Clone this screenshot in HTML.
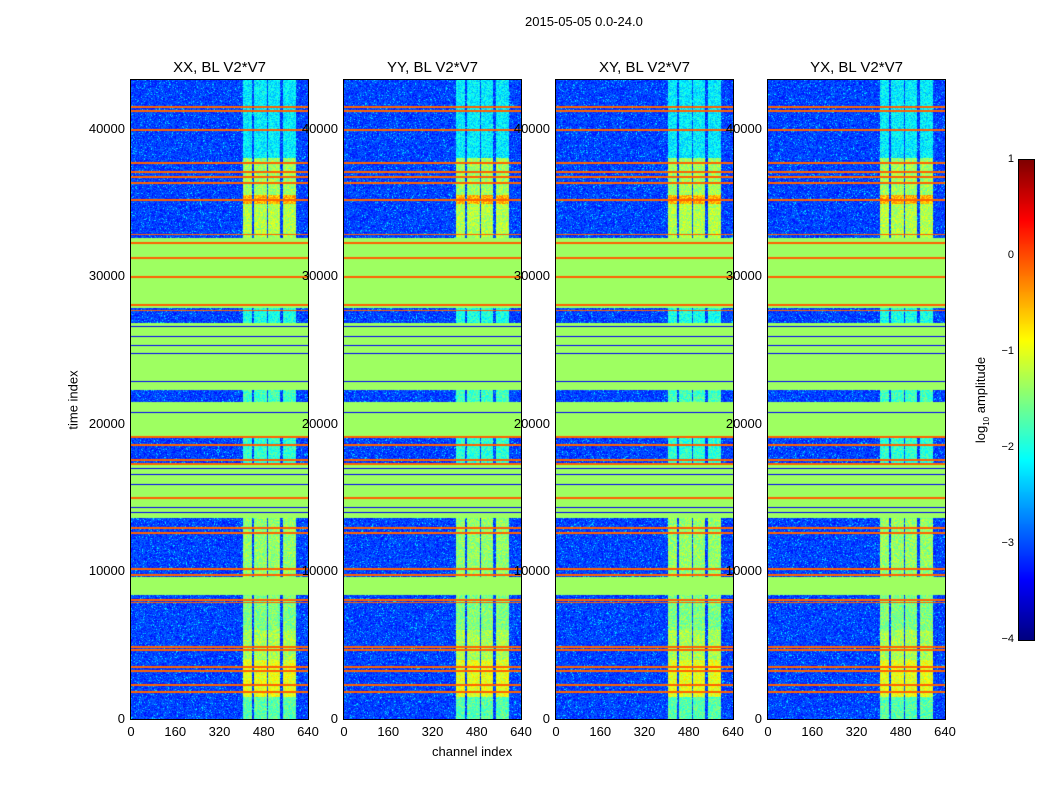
<!DOCTYPE html>
<html><head><meta charset="utf-8">
<style>
body{margin:0;background:#fff;font-family:"Liberation Sans",sans-serif;}
#root{position:relative;width:1050px;height:800px;overflow:hidden;background:#fff;}
canvas{position:absolute;}
.t{position:absolute;font-size:13px;color:#000;white-space:nowrap;}
.title{position:absolute;font-size:15px;white-space:nowrap;transform:translateX(-50%);}
.frame{position:absolute;border:1px solid #000;box-sizing:border-box;}
</style></head><body>
<div id="root">
<div class="t" style="left:525px;top:14px;">2015-05-05 0.0-24.0</div>
<div class="t" style="top:400px;transform:translate(-50%,-50%) rotate(-90deg);left:73px;">time index</div>
<div class="t" style="left:432px;top:744px;">channel index</div>
<canvas id="cb" width="15" height="480" style="left:1019px;top:160px;"></canvas>
<div class="frame" style="left:1018px;top:159px;width:17px;height:482px;"></div>
<div class="t" style="left:982px;top:400px;transform:translate(-50%,-50%) rotate(-90deg);">log<sub style="font-size:8px">10</sub> amplitude</div>
</div>
<script>
const panelTitles=["XX, BL V2*V7","YY, BL V2*V7","XY, BL V2*V7","YX, BL V2*V7"];
const panelLefts=[131,344,556,768];
const yTicks=[0,10000,20000,30000,40000];
const xTicks=[0,160,320,480,640];
const cbTicks=[1,0,-1,-2,-3,-4];
const greenBands=[[8400,9630],[13630,17350],[19050,21500],[22300,26850],[27860,32600]];
const redLines=[1850,2300,3250,3550,4700,4900,7900,8050,9750,10150,12600,12950,15000,17300,17550,18600,19100,27700,28050,29950,31250,32250,32850,35200,36350,36750,37100,37700,39950,41200,41500];
const blueLines=[14030,14370,15930,16610,16950,20750,22850,24750,25290,25900,26580];
const columns=[[405,438],[445,490],[497,540],[548,598]];
const colSegs=[[0,1500,-1.7],[1500,4000,-1.0],[4000,6000,-1.3],[6000,8400,-1.5],[9630,13630,-1.4],[17350,19050,-1.9],[21500,22300,-1.8],[26850,27860,-2.0],[32600,34900,-1.25],[34900,35500,-0.5],[35500,38000,-1.35],[38000,43400,-2.2]];
const greenLevel=-1.35, redLevel=-0.1, bgLevel=-3.05, blueLevel=-3.4;
const vmin=-4,vmax=1,tMax=43322,chMax=640,W=177,H=639,TOP=80;
function jet(v){let f=(v-vmin)/(vmax-vmin);f=Math.max(0,Math.min(1,f));
 const c=x=>Math.max(0,Math.min(1,x));
 return [c(1.5-Math.abs(4*f-3))*255,c(1.5-Math.abs(4*f-2))*255,c(1.5-Math.abs(4*f-1))*255];}
function tex(x,y,p){let h=(x*374761393+y*668265263+p*2147483647)|0;h=(h^(h>>>13))*1274126177|0;return ((h^(h>>>16))>>>0)/4294967295;}
const root=document.getElementById('root');
const xs=ch=>ch/chMax*W, ys=t=>H-t/tMax*H;
const rowT=tMax/H;
panelLefts.forEach((L,p)=>{
 const cv=document.createElement('canvas');cv.width=W;cv.height=H;
 cv.style.left=L+'px';cv.style.top=TOP+'px';
 
 
 root.appendChild(cv);
 const ctx=cv.getContext('2d');const im=ctx.createImageData(W,H);
 for(let py=0;py<H;py++){const t=(H-py-0.5)/H*tMax;
  const inGreen=greenBands.some(b=>t>=b[0]&&t<b[1]);
  const isRed=redLines.some(r=>Math.abs(t-r)<rowT*0.9);
  const isBlue=blueLines.some(r=>Math.abs(t-r)<=rowT*0.5);
  let seg=colSegs.find(s=>t>=s[0]&&t<s[1]);
  for(let px=0;px<W;px++){const ch=(px+0.5)/W*chMax;const n=tex(px,py,p);
   let v;
   if(isRed)v=redLevel;
   else if(isBlue)v=blueLevel;
   else if(inGreen)v=greenLevel;
   else{const inCol=columns.some(c=>ch>=c[0]&&ch<c[1]);
    if(inCol&&seg)v=seg[2]+(n-0.5)*0.7;
    else v=bgLevel+(n-0.5)*0.6+(n>0.95?0.5:0);}
   const c=jet(v),i=(py*W+px)*4;im.data[i]=c[0];im.data[i+1]=c[1];im.data[i+2]=c[2];im.data[i+3]=255;}}
 ctx.putImageData(im,0,0);
 const fr=document.createElement('div');fr.className='frame';
 fr.style.cssText=`left:${L-1}px;top:${TOP-1}px;width:${W+2}px;height:${H+2}px;`;
 
 
 root.appendChild(fr);
 const ti=document.createElement('div');ti.className='title';ti.textContent=panelTitles[p];
 ti.style.left=(L+W/2)+'px';ti.style.top='59px';
 
 
 root.appendChild(ti);
 yTicks.forEach(v=>{const d=document.createElement('div');d.className='t';d.textContent=v;
  d.style.left=(L-6)+'px';d.style.top=(TOP+ys(v)-8)+'px';d.style.transform='translateX(-100%)';
  
  
  root.appendChild(d);});
 xTicks.forEach(v=>{const d=document.createElement('div');d.className='t';d.textContent=v;
  d.style.left=(L+xs(v))+'px';d.style.top='724px';d.style.transform='translateX(-50%)';
  
  
  root.appendChild(d);});
});
const cb=document.getElementById('cb').getContext('2d');
for(let y=0;y<480;y++){const v=vmax-(y+0.5)/480*(vmax-vmin);const c=jet(v);cb.fillStyle=`rgb(${c[0]|0},${c[1]|0},${c[2]|0})`;cb.fillRect(0,y,15,1);}
cbTicks.forEach(v=>{const d=document.createElement('div');d.className='t';d.style.fontSize='11px';
 d.textContent=v<0?'\u2212'+(-v):v;
 d.style.left='1014px';d.style.top=(160+(vmax-v)/(vmax-vmin)*480-7)+'px';d.style.transform='translateX(-100%)';
 
 
 root.appendChild(d);});
</script>
</body></html>
